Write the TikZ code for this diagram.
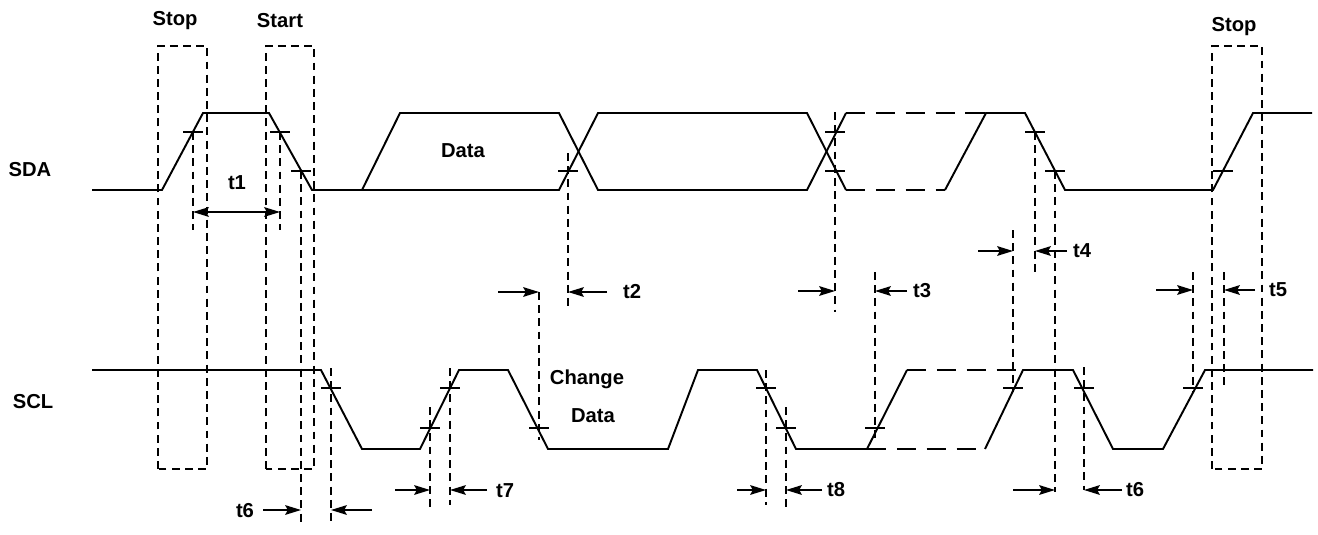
\documentclass[tikz,border=0pt]{standalone}
\usepackage{fontspec}
\setmainfont{Liberation Sans}
\usetikzlibrary{arrows.meta}
\tikzset {>={Stealth[length=9pt,width=5.5pt,inset=1.5pt]}}
\tikzset{
  wave/.style={line width=1.1pt,line join=miter},
  hold/.style={line width=1.1pt,dash pattern=on 11pt off 6pt},
  guide/.style={line width=.75pt,dash pattern=on 4.5pt off 3pt},
  tmark/.style={line width=.9pt},
  lbl/.style={font=\bfseries\fontsize{11.5}{13}\selectfont,inner sep=0pt}
}

\begin{document}
\begin{tikzpicture}[x=0.02cm,y=-0.02cm]
\useasboundingbox (0,0) rectangle (1318,534);
% SDA
\draw[wave]
  (92,190) coordinate (sdaL) --
  (162,190) -- (203,113) -- (269,113) -- (312,190) --
  (559,190) -- (598,113) -- (807,113) -- (846,190) coordinate (lo1);
\draw[wave]
  (362,190) -- (400,113) -- (559,113) -- (598,190) --
  (807,190) -- (846,113) coordinate (hi1);
\draw[hold] (hi1) -- (986,113) coordinate (hi2);
\draw[hold] (lo1) -- (945,190) coordinate (lo2);
\draw[wave]
  (lo2) -- (hi2) -- (1025,113) -- (1065,190) --
  (1213,190) -- (1253,113) -- (1312,113) coordinate (sdaR);
% SCL
\draw[wave]
  (92,370) coordinate (sclL) --
  (321,370) -- (362,449) -- (420,449) -- (459,370) --
  (508,370) -- (548,449) -- (668,449) -- (698,370) --
  (757,370) -- (796,449) -- (867,449) coordinate (lo3) --
  (907,370) coordinate (hi3);
\draw[hold] (hi3) -- (1023,370) coordinate (hi4);
\draw[hold] (lo3) -- (985,449) coordinate (lo4);
\draw[wave]
  (lo4) -- (hi4) -- (1073,370) -- (1113,449) --
  (1163,449) -- (1205,370) -- (1313,370) coordinate (sclR);
% start / stop windows
\foreach \xa/\xb in {158/207,266/314,1212/1262}
  \draw[guide] (\xa,469) -- (\xa,46) -- (\xb,46) -- (\xb,469) -- cycle;
% threshold marks
\foreach \x/\y in {193/132,280/132,301/171,568/171,835/132,835/171,
  1035/132,1055/171,1223/171,331/388,430/428,450/388,539/428,766/388,
  786/428,875/428,1013/388,1084/388,1193/388}
  \draw[tmark] (\x-10,\y) -- (\x+10,\y);
% timing guides
\foreach \x/\ya/\yb in {193/132/230,280/132/230,301/171/522,568/153/307,
  835/112/312,1035/132/272,1055/171/492,1224/272/390,331/368/525,
  430/407/507,450/368/505,539/292/440,766/370/505,786/407/507,
  875/272/442,1013/230/392,1084/367/490,1193/272/392}
  \draw[guide] (\x,\ya) -- (\x,\yb);
% dimension arrows
\draw[<->,line width=1pt] (193,212) -- (280,212);
\foreach \xa/\xb/\y in {498/539/292,607/568/292,798/835/291,907/875/291,
  978/1013/251,1067/1035/251,1156/1193/290,1255/1224/290,263/301/510,
  372/331/510,395/430/490,487/450/490,737/766/490,822/786/490,
  1013/1055/490,1122/1084/490}
  \draw[->,line width=1pt] (\xa,\y) -- (\xb,\y);
% labels
\foreach \name/\x/\y/\txt in {sda/30/170/SDA,scl/33/402/SCL,
  stopA/175/21/Stop,start/280/21/Start,stopB/1234/27/Stop,
  data/463/151/Data,chg/587/379/Change,chgd/593/416/Data,
  t1/237/183/t1,t2/632/292/t2,t3/922/291/t3,t4/1082/251/t4,
  t5/1278/290/t5,t6a/245/511/t6,t6b/1135/490/t6,t7/505/491/t7,
  t8/836/490/t8}
  \node[lbl] (\name) at (\x,\y) {\txt};
\end{tikzpicture}
\end{document}
